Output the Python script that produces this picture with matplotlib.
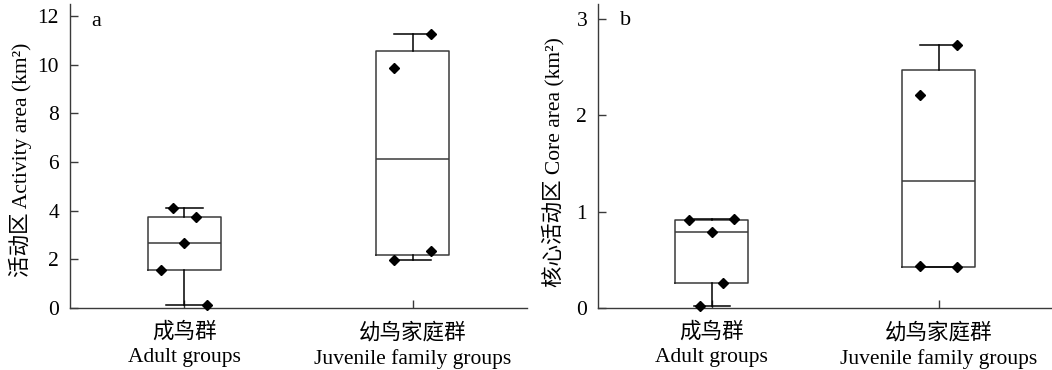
import numpy as np
import matplotlib
matplotlib.use("Agg")
import matplotlib.pyplot as plt

plt.rcParams['font.family'] = ['Liberation Serif', 'Noto Sans CJK SC', 'DejaVu Sans']

# ---- data ----
categories = ["成鸟群\nAdult groups", "幼鸟家庭群\nJuvenile family groups"]
adult_activity = [4.10, 3.73, 2.66, 1.55, 0.12]
juvenile_activity = [11.26, 9.86, 2.35, 1.97]
adult_core = [0.91, 0.92, 0.79, 0.26, 0.02]
juvenile_core = [2.73, 2.21, 0.43, 0.42]

# horizontal jitter of the individual points (style)
adult_activity_jit = [-0.05, 0.05, 0.0, -0.10, 0.10]
juvenile_activity_jit = [0.08, -0.08, 0.08, -0.08]
adult_core_jit = [-0.10, 0.10, 0.0, 0.05, -0.05]
juvenile_core_jit = [0.08, -0.08, -0.08, 0.08]

ylabels = ["活动区 Activity area (km²)", "核心活动区 Core area (km²)"]
yticks_a = [0, 2, 4, 6, 8, 10, 12]
yticks_b = [0, 1, 2, 3]
panel_labels = ["a", "b"]


def stats_of(values):
    v = np.sort(np.asarray(values, float))
    q1, med, q3 = np.percentile(v, [25, 50, 75], method='midpoint')
    iqr = q3 - q1
    lo = v[v >= q1 - 1.5 * iqr].min()
    hi = v[v <= q3 + 1.5 * iqr].max()
    return dict(med=med, q1=q1, q3=q3, whislo=lo, whishi=hi, fliers=[])


W, H = 1052, 370
fig = plt.figure(figsize=(W / 100, H / 100), dpi=100)
ax_a = fig.add_axes([70 / W, 62.3 / H, 457 / W, 303.7 / H])
ax_b = fig.add_axes([598.3 / W, 62.3 / H, 453.7 / W, 303.7 / H])

spine_col = '#3a3a3a'
panels = [
    (ax_a, [adult_activity, juvenile_activity], [adult_activity_jit, juvenile_activity_jit],
     (0, 12.5), yticks_a, (-0.109, 0.486), (0.058, 0.944)),
    (ax_b, [adult_core, juvenile_core], [adult_core_jit, juvenile_core_jit],
     (0, 3.16), yticks_b, (-0.100, 0.478), (0.059, 0.947)),
]

for i, (ax, groups, jits, ylim, yt, ylc, plc) in enumerate(panels):
    stats = [stats_of(g) for g in groups]
    ax.bxp(stats, positions=[0, 1], widths=0.32, showfliers=False,
           boxprops=dict(color=spine_col, linewidth=1.1),
           whiskerprops=dict(color='black', linewidth=1.1),
           capprops=dict(color='black', linewidth=1.1),
           medianprops=dict(color=spine_col, linewidth=1.1))
    for pos, (g, j) in enumerate(zip(groups, jits)):
        ax.plot(pos + np.asarray(j), g, linestyle='none', marker='D',
                markersize=5.2, color='black', zorder=5, clip_on=False)
    ax.set_xlim(-0.5, 1.5)
    ax.set_ylim(*ylim)
    ax.set_yticks(yt)
    ax.set_xticks([0, 1])
    ax.set_xticklabels(categories, fontsize=15.5, linespacing=1.4)
    ax.tick_params(axis='y', direction='in', length=5.8, width=1.0, color=spine_col,
                   labelsize=15.5, pad=8)
    ax.tick_params(axis='x', direction='in', length=5.8, width=1.0, color=spine_col,
                   pad=10.5)
    for s in ['top', 'right']:
        ax.spines[s].set_visible(False)
    for s in ['left', 'bottom']:
        ax.spines[s].set_color(spine_col)
        ax.spines[s].set_linewidth(1.0)
    ax.set_ylabel(ylabels[i], fontsize=15.5)
    ax.yaxis.set_label_coords(*ylc)
    ax.yaxis.label.set_verticalalignment('center')
    ax.text(plc[0], plc[1], panel_labels[i], transform=ax.transAxes,
            fontsize=16, ha='center', va='center')

fig.savefig("out.png", dpi=100)
